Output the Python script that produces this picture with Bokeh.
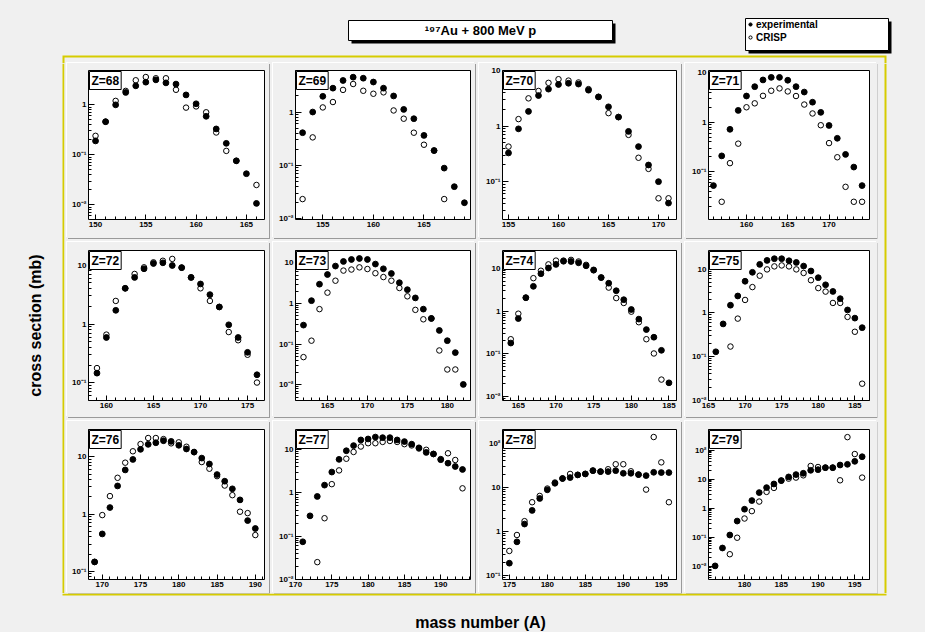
import math
from bokeh.plotting import figure
from bokeh.layouts import row, column
from bokeh.models import (Range1d, FixedTicker, CustomJSTickFormatter, Label,
                          Legend, LegendItem, ColumnDataSource)
from bokeh.core.properties import value
from bokeh.embed import file_html
from bokeh.resources import INLINE

# ---------------- data (mass number A, cross section in mb) ----------------
z_numbers = [68, 69, 70, 71, 72, 73, 74, 75, 76, 77, 78, 79]

z68_exp_a = [150, 151, 152, 153, 154, 155, 156, 157, 158, 159, 160, 161, 162, 163, 164, 165, 166]
z68_exp = [0.19, 0.46, 1.0, 1.77, 2.4, 2.84, 3.16, 2.75, 2.6, 1.58, 1.05, 0.59, 0.33, 0.17, 0.076, 0.042, 0.0107]
z68_crisp_a = [150, 151, 152, 153, 154, 155, 156, 157, 158, 159, 160, 161, 162, 163, 164, 166]
z68_crisp = [0.24, 0.46, 1.2, 1.9, 3.1, 3.6, 3.4, 3.4, 2.0, 0.88, 0.93, 0.71, 0.28, 0.12, 0.076, 0.025]

z69_exp_a = [153, 154, 155, 156, 157, 158, 159, 160, 161, 162, 163, 164, 165, 166, 167, 168, 169]
z69_exp = [0.41, 1.0, 1.97, 2.8, 3.9, 4.5, 4.3, 3.65, 2.8, 2.0, 1.12, 0.75, 0.365, 0.19, 0.089, 0.04, 0.02]
z69_crisp_a = [153, 154, 155, 156, 157, 158, 159, 160, 161, 162, 163, 164, 165, 166, 167]
z69_crisp = [0.0234, 0.335, 1.22, 1.54, 2.6, 3.35, 2.5, 2.2, 2.34, 1.07, 0.75, 0.41, 0.244, 0.19, 0.0234]

z70_exp_a = [155, 156, 157, 158, 159, 160, 161, 162, 163, 164, 165, 166, 167, 168, 169, 170, 171]
z70_exp = [0.33, 0.9, 1.86, 3.6, 4.7, 5.7, 6.0, 5.8, 4.5, 3.4, 2.25, 1.47, 0.81, 0.43, 0.2, 0.1, 0.041]
z70_crisp_a = [155, 156, 157, 158, 159, 160, 161, 162, 163, 164, 165, 166, 167, 168, 169, 170, 171]
z70_crisp = [0.43, 1.35, 3.2, 4.35, 6.1, 7.1, 6.7, 6.2, 4.7, 3.4, 1.73, 1.47, 0.7, 0.27, 0.17, 0.05, 0.05]

z71_exp_a = [156, 157, 158, 159, 160, 161, 162, 163, 164, 165, 166, 167, 168, 169, 170, 171, 172, 173, 174]
z71_exp = [0.053, 0.21, 0.72, 1.73, 3.37, 5.2, 7.1, 8.0, 8.0, 7.0, 5.2, 4.05, 2.53, 1.58, 0.86, 0.475, 0.225, 0.125, 0.053]
z71_crisp_a = [157, 158, 159, 160, 161, 162, 163, 164, 165, 166, 167, 168, 169, 170, 171, 172, 173, 174]
z71_crisp = [0.025, 0.15, 0.37, 2.0, 2.4, 3.4, 4.3, 4.8, 4.17, 3.37, 2.27, 1.5, 0.87, 0.38, 0.197, 0.05, 0.025, 0.025]

z72_exp_a = [159, 160, 161, 162, 163, 164, 165, 166, 167, 168, 169, 170, 171, 172, 173, 174, 175, 176]
z72_exp = [0.146, 0.59, 1.71, 4.05, 6.2, 8.7, 10.7, 11.0, 9.9, 9.1, 6.2, 4.8, 3.16, 1.95, 0.97, 0.59, 0.33, 0.137]
z72_crisp_a = [159, 160, 161, 162, 163, 164, 165, 166, 167, 168, 169, 170, 171, 172, 173, 174, 175, 176]
z72_crisp = [0.178, 0.66, 2.47, 4.05, 7.1, 9.2, 11.2, 11.9, 12.8, 9.1, 6.2, 4.05, 2.47, 1.95, 0.73, 0.53, 0.30, 0.101]

z73_exp_a = [162, 163, 164, 165, 166, 167, 168, 169, 170, 171, 172, 173, 174, 175, 176, 177, 178, 179, 180, 181, 182]
z73_exp = [0.295, 1.18, 3.0, 5.2, 8.4, 10.9, 12.2, 12.9, 12.2, 9.4, 7.2, 5.5, 3.27, 2.2, 1.38, 0.73, 0.43, 0.218, 0.122, 0.062, 0.0102]
z73_crisp_a = [162, 163, 164, 165, 166, 167, 168, 169, 170, 171, 172, 173, 174, 175, 176, 177, 178, 179, 180, 181]
z73_crisp = [0.048, 0.122, 0.73, 1.86, 3.66, 6.5, 6.9, 7.8, 7.1, 5.6, 4.5, 3.66, 2.42, 1.51, 0.7, 0.41, 0.43, 0.07, 0.0238, 0.0238]

z74_exp_a = [164, 165, 166, 167, 168, 169, 170, 171, 172, 173, 174, 175, 176, 177, 178, 179, 180, 181, 182, 183, 184, 185]
z74_exp = [0.179, 0.67, 2.06, 3.8, 7.5, 10.2, 12.4, 14.7, 14.5, 13.5, 11.5, 9.2, 6.1, 4.5, 3.0, 1.85, 1.09, 0.65, 0.37, 0.245, 0.121, 0.021]
z74_crisp_a = [164, 165, 166, 167, 168, 169, 170, 171, 172, 173, 174, 175, 176, 177, 178, 179, 180, 181, 182, 183, 184]
z74_crisp = [0.22, 0.87, 2.06, 5.9, 8.8, 12.4, 15.2, 15.2, 15.8, 14.5, 12.1, 9.0, 6.1, 3.55, 2.02, 1.55, 0.97, 0.55, 0.22, 0.102, 0.025]

z75_exp_a = [166, 167, 168, 169, 170, 171, 172, 173, 174, 175, 176, 177, 178, 179, 180, 181, 182, 183, 184, 185, 186]
z75_exp = [0.129, 0.56, 1.5, 2.44, 5.3, 8.5, 12.9, 15.9, 17.4, 17.4, 15.6, 14.3, 11.8, 9.1, 6.4, 4.4, 3.1, 2.12, 1.17, 0.76, 0.46]
z75_crisp_a = [168, 169, 170, 171, 172, 173, 174, 175, 176, 177, 178, 179, 180, 181, 182, 183, 184, 185, 186]
z75_crisp = [0.17, 0.74, 1.98, 3.9, 7.1, 9.9, 11.6, 12.2, 11.6, 9.9, 8.2, 5.6, 3.7, 3.07, 1.69, 1.69, 0.81, 0.37, 0.024]

z76_exp_a = [169, 170, 171, 172, 173, 174, 175, 176, 177, 178, 179, 180, 181, 182, 183, 184, 185, 186, 187, 188, 189, 190]
z76_exp = [0.146, 0.45, 1.3, 3.1, 5.9, 9.0, 13.5, 16.5, 17.6, 19.1, 18.6, 15.9, 13.7, 12.1, 9.5, 7.5, 4.9, 3.75, 2.76, 1.77, 0.77, 0.56]
z76_crisp_a = [169, 170, 171, 172, 173, 174, 175, 176, 177, 178, 179, 180, 181, 182, 183, 184, 185, 186, 187, 188, 189, 190]
z76_crisp = [0.146, 0.96, 2.06, 4.3, 7.9, 12.5, 16.7, 21.3, 21.3, 20.4, 17.2, 17.9, 15.0, 12.1, 8.1, 6.2, 4.6, 3.15, 2.14, 1.1, 1.04, 0.43]

z77_exp_a = [171, 172, 173, 174, 175, 176, 177, 178, 179, 180, 181, 182, 183, 184, 185, 186, 187, 188, 189, 190, 191, 192, 193]
z77_exp = [0.074, 0.295, 0.83, 1.52, 3.05, 6.0, 9.5, 12.5, 16.9, 17.8, 19.7, 19.1, 19.1, 16.9, 15.5, 13.5, 11.1, 8.7, 8.0, 5.9, 4.9, 4.1, 3.5]
z77_crisp_a = [173, 174, 175, 176, 177, 178, 179, 180, 181, 182, 183, 184, 185, 186, 187, 188, 189, 190, 191, 192, 193]
z77_crisp = [0.025, 0.26, 1.6, 3.33, 6.2, 8.9, 11.9, 14.2, 14.2, 15.2, 16.0, 15.2, 13.5, 12.6, 10.7, 10.0, 8.0, 6.1, 8.3, 5.8, 1.28]

z78_exp_a = [175, 176, 177, 178, 179, 180, 181, 182, 183, 184, 185, 186, 187, 188, 189, 190, 191, 192, 193, 194, 195, 196]
z78_exp = [0.19, 0.58, 1.47, 3.0, 5.6, 8.8, 12.4, 15.9, 16.7, 19.2, 20.2, 24.0, 22.8, 22.8, 24.0, 20.9, 20.9, 19.5, 18.5, 22.0, 21.7, 21.7]
z78_crisp_a = [175, 176, 177, 178, 179, 180, 181, 182, 183, 184, 185, 186, 187, 188, 189, 190, 191, 192, 193, 194, 195, 196]
z78_crisp = [0.36, 0.83, 1.71, 4.6, 6.4, 9.4, 12.9, 15.9, 20.2, 19.2, 20.2, 24.0, 22.8, 25.8, 33.5, 33.5, 23.2, 19.5, 8.9, 139.0, 37.0, 4.6]

z79_exp_a = [176, 177, 178, 179, 180, 181, 182, 183, 184, 185, 186, 187, 188, 189, 190, 191, 192, 193, 194, 195, 196]
z79_exp = [0.0103, 0.0425, 0.119, 0.36, 0.92, 1.83, 3.44, 5.1, 6.8, 8.9, 11.9, 14.3, 15.9, 20.1, 21.2, 24.8, 24.8, 30.6, 32.3, 40.9, 59.0]
z79_crisp_a = [178, 179, 180, 181, 182, 183, 184, 185, 186, 187, 188, 189, 190, 191, 192, 193, 194, 195, 196]
z79_crisp = [0.026, 0.096, 0.44, 0.79, 1.69, 3.63, 4.98, 8.9, 10.4, 11.3, 13.5, 28.3, 26.1, 24.8, 24.8, 9.1, 279.0, 73.0, 11.3]

# axis ranges of each panel (A, then cross section)
x_ranges = [(149.3, 166.8), (152.3, 169.6), (154.4, 171.8), (155.4, 174.9),
            (158.1, 176.8), (161.0, 182.9), (162.9, 186.0), (165.0, 187.0),
            (168.2, 191.2), (170.0, 194.1), (174.1, 197.0), (175.1, 197.0)]
y_ranges = [(0.0051, 4.86), (0.0097, 6.0), (0.0207, 10.2), (0.011, 11.0),
            (0.050, 17.8), (0.0041, 20.3), (0.0081, 26.2), (0.0099, 26.8),
            (0.072, 30.0), (0.0099, 29.5), (0.081, 206.0), (0.0035, 511.0)]

# tick labels
x_tick_values = [145, 150, 155, 160, 165, 170, 175, 180, 185, 190, 195, 200]
y_tick_values = [0.001, 0.01, 0.1, 1, 10, 100, 1000]
y_tick_labels = ["10⁻³", "10⁻²", "10⁻¹", "1", "10", "10²", "10³"]

title_text = "¹⁹⁷Au + 800 MeV p"
legend_labels = ["experimental", "CRISP"]
x_label = "mass number (A)"
y_label = "cross section (mb)"

series = {
    68: (z68_exp_a, z68_exp, z68_crisp_a, z68_crisp),
    69: (z69_exp_a, z69_exp, z69_crisp_a, z69_crisp),
    70: (z70_exp_a, z70_exp, z70_crisp_a, z70_crisp),
    71: (z71_exp_a, z71_exp, z71_crisp_a, z71_crisp),
    72: (z72_exp_a, z72_exp, z72_crisp_a, z72_crisp),
    73: (z73_exp_a, z73_exp, z73_crisp_a, z73_crisp),
    74: (z74_exp_a, z74_exp, z74_crisp_a, z74_crisp),
    75: (z75_exp_a, z75_exp, z75_crisp_a, z75_crisp),
    76: (z76_exp_a, z76_exp, z76_crisp_a, z76_crisp),
    77: (z77_exp_a, z77_exp, z77_crisp_a, z77_crisp),
    78: (z78_exp_a, z78_exp, z78_crisp_a, z78_crisp),
    79: (z79_exp_a, z79_exp, z79_crisp_a, z79_crisp),
}

# ---------------- style / geometry ----------------
FONT = "Liberation Sans"
CANVAS_BG = "#f0f0f0"
PAD_BG = "#f0f0f0"
FRAME_BG = "#ffffff"
YELLOW = "#d6cc00"
BEVEL_DARK = "#9a9a9a"

SW = [202, 202, 202, 192]     # subpad widths per column
FL = [21, 22, 23, 23]         # frame left offsets
FR = [5, 5, 5, 8]             # right borders
SH = [175, 175, 172]          # subpad heights per row
FT = [7, 8, 8]
FB = [19, 17, 14]
GAP = 4
PAGE_W, PAGE_H = 925, 632


def deco_fig(x0, x1, y0, y1):
    p = figure(width=x1 - x0, height=y1 - y0,
               x_range=Range1d(x0, x1), y_range=Range1d(-y1, -y0),
               output_backend="svg", toolbar_location=None,
               x_axis_location=None, y_axis_location=None, min_border=0,
               background_fill_color=CANVAS_BG, border_fill_color=CANVAS_BG,
               outline_line_color=None)
    p.grid.visible = False
    return p


def box(p, l, r, t, b, color):
    p.quad(left=[l], right=[r], top=[-t], bottom=[-b], fill_color=color, line_color=None)


def y_formatter():
    return CustomJSTickFormatter(args=dict(vals=y_tick_values, labs=y_tick_labels), code="""
        let best = 0, bd = Infinity;
        for (let i = 0; i < vals.length; i++) {
            const d = Math.abs(Math.log10(vals[i]) - Math.log10(tick));
            if (d < bd) { bd = d; best = i; }
        }
        return labs[best];
    """)


y_minor = [m * 10.0 ** e for e in range(-3, 3) for m in range(2, 10)]
x_minor = list(range(145, 201))


def panel(idx):
    r, c = divmod(idx, 4)
    z = z_numbers[idx]
    ea, ev, ca, cv = series[z]
    p = figure(width=SW[c], height=SH[r],
               x_range=Range1d(*x_ranges[idx]), y_range=Range1d(*y_ranges[idx]),
               y_axis_type="log", output_backend="svg", toolbar_location=None,
               min_border_left=FL[c], min_border_right=FR[c],
               min_border_top=FT[r], min_border_bottom=FB[r],
               background_fill_color=FRAME_BG, border_fill_color=PAD_BG,
               outline_line_color="black", outline_line_width=1,
               styles={"box-shadow": f"1px 1px 0px 0px {BEVEL_DARK}, -1px -1px 0px 0px #ffffff"})
    p.grid.visible = False
    p.xaxis.ticker = FixedTicker(ticks=x_tick_values, minor_ticks=x_minor)
    p.yaxis.ticker = FixedTicker(ticks=y_tick_values, minor_ticks=y_minor)
    p.yaxis.formatter = y_formatter()
    for ax in (p.xaxis[0], p.yaxis[0]):
        ax.axis_line_color = None
        ax.major_tick_in = 5
        ax.major_tick_out = 0
        ax.minor_tick_in = 3
        ax.minor_tick_out = 0
        ax.major_tick_line_color = "black"
        ax.minor_tick_line_color = "black"
        ax.major_label_text_font = FONT
        ax.major_label_text_font_size = "8px"
        ax.major_label_text_font_style = "bold"
        ax.major_label_text_color = "black"
        ax.major_label_standoff = 2
    p.yaxis.major_tick_in = 6

    src_e = ColumnDataSource(dict(a=ea, s=ev))
    src_c = ColumnDataSource(dict(a=ca, s=cv))
    p.scatter("a", "s", source=src_c, marker="circle", size=5.5,
              fill_color=None, line_color="black", line_width=1)
    p.scatter("a", "s", source=src_e, marker="circle", size=5.8,
              fill_color="black", line_color="black")

    p.add_layout(Label(x=x_ranges[idx][0], y=y_ranges[idx][1], x_offset=1, y_offset=-1,
                       text=f"Z={z}", text_font=FONT, text_font_size="12px",
                       text_font_style="bold", text_color="black",
                       text_align="left", text_baseline="top",
                       background_fill_color="white", border_line_color="black",
                       border_line_width=1, padding=2))
    return p


# ---------------- header (ref y 0..63) ----------------
header = deco_fig(0, PAGE_W, 0, 63)
box(header, 62, 886, 55, 63, YELLOW)
box(header, 64, 884, 57, 63, PAD_BG)
# title pave with shadow
box(header, 351, 615, 23, 43, "black")
header.quad(left=[348], right=[612], top=[-20], bottom=[-40], fill_color="#ffffff",
            line_color="black", line_width=1)
header.text(x=[480], y=[-30], text=[title_text], text_font=value(FONT), text_font_size="13px",
            text_font_style="bold", text_align="center", text_baseline="middle", text_color="black")
# legend pave with shadow
box(header, 748, 891, 21, 53, "black")
header.quad(left=[745], right=[888], top=[-18], bottom=[-50], fill_color="#ffffff",
            line_color="black", line_width=1)
# legend glyph renderers: one point each, placed outside the visible canvas
r_exp = header.scatter(x=[-500], y=[-500], marker="circle", size=5,
                       fill_color="black", line_color="black")
r_cr = header.scatter(x=[-500], y=[-500], marker="circle", size=5,
                      fill_color=None, line_color="black")
leg = Legend(items=[LegendItem(label=legend_labels[0], renderers=[r_exp]),
                    LegendItem(label=legend_labels[1], renderers=[r_cr])],
             location=(746, 20), orientation="vertical",
             background_fill_alpha=0, border_line_color=None,
             label_text_font=FONT, label_text_font_size="10px", label_text_font_style="bold",
             label_text_color="black", glyph_width=8, glyph_height=8, label_height=12,
             label_standoff=2, spacing=1, padding=2, margin=0)
header.add_layout(leg)

# ---------------- left / right / footer ----------------
left = deco_fig(0, 67, 63, 593)
box(left, 62, 64, 63, 593, YELLOW)
box(left, 64, 67, 63, 593, PAD_BG)
left.text(x=[35], y=[-325], text=[y_label], angle=math.pi / 2, text_font=value(FONT),
          text_font_size="16px", text_font_style="bold", text_align="center",
          text_baseline="middle", text_color="black")

right = deco_fig(877, PAGE_W, 63, 593)
box(right, 877, 884, 63, 593, PAD_BG)
box(right, 884, 886, 63, 593, YELLOW)

footer = deco_fig(0, PAGE_W, 593, PAGE_H)
box(footer, 62, 886, 593, 595, YELLOW)
footer.text(x=[480], y=[-622], text=[x_label], text_font=value(FONT), text_font_size="16px",
            text_font_style="bold", text_align="center", text_baseline="middle", text_color="black")

# ---------------- panels ----------------
panels = [panel(i) for i in range(12)]
bg = {"background-color": PAD_BG}
rows = [row(panels[4 * r:4 * r + 4], spacing=GAP, styles=bg) for r in range(3)]
block = column(rows, spacing=GAP, styles=bg)
middle = row([left, block, right], spacing=0)
layout = column([header, middle, footer], spacing=0, styles={"background-color": CANVAS_BG})

open("out.html", "w").write(file_html(layout, INLINE))
